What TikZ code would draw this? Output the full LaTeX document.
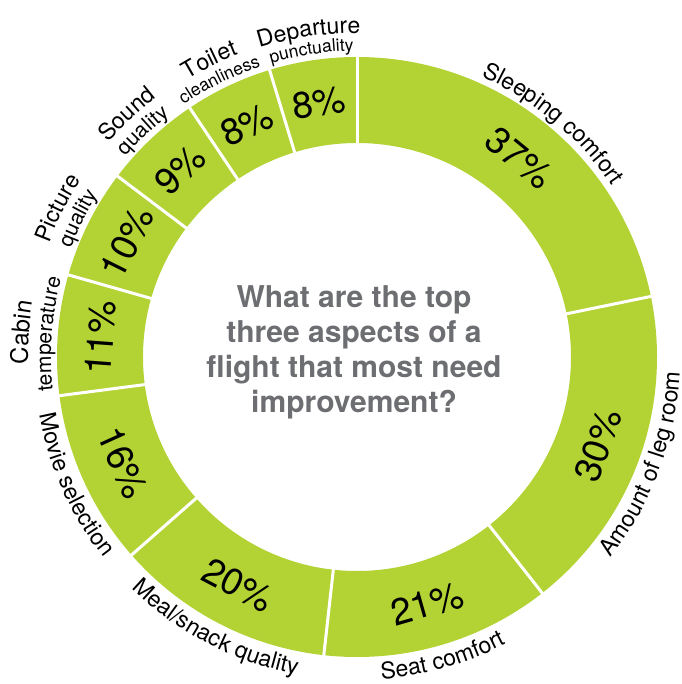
\documentclass[tikz,border=0pt]{standalone}
\usepackage{fontspec}
\setmainfont{TeX Gyre Heros}
\usetikzlibrary{decorations.text}
\definecolor{ringgreen}{RGB}{179,211,53}
\definecolor{qgrey}{RGB}{109,110,113}
\newcommand\bigfont{\fontsize{23pt}{23pt}\selectfont}
\newcommand\smallfont{\fontsize{17.5pt}{17.5pt}\selectfont}
\newcommand\midfont{\fontsize{21pt}{21pt}\selectfont}
\tikzset{
  pct/.style={font=\fontsize{37pt}{37pt}\selectfont, inner sep=0pt},
  question/.style={align=center, text=qgrey, inner sep=0pt,
    font=\bfseries\fontsize{30pt}{35pt}\selectfont},
  sepline/.style={white, line width=3pt},
}
% #1 mid angle, #2 radius, #3 text  (clockwise: letters outward)
\newcommand\toplabel[3]{%
  \path[decorate, decoration={text along path, text align=center, text={#3}}]
    ({#1+45}:#2) arc[start angle={#1+45}, end angle={#1-45}, radius=#2];}
% counter-clockwise: letters toward the centre
\newcommand\botlabel[3]{%
  \path[decorate, decoration={text along path, text align=center, text={#3}}]
    ({#1-45}:#2) arc[start angle={#1-45}, end angle={#1+45}, radius=#2];}
\begin{document}
\begin{tikzpicture}
\useasboundingbox (-357pt,-327pt) rectangle (324pt,357pt);
% ring
\fill[ringgreen, even odd rule] (0,0) circle (300pt) (0,0) circle (214pt);
% separators
\foreach \a in {90,11.647,-51.882,-96.353,-138.706,-172.588,-195.882,-217.059,-236.118,-253.059}
  \draw[sepline] (\a:211pt) -- (\a:303pt);
% percentages
\node[pct, rotate=-39.18] (p1) at (50.824:257pt) {37\%};
\node[pct, rotate=69.88] (p2) at (-20.118:257pt) {30\%};
\node[pct, rotate=15.88] (p3) at (-74.118:257pt) {21\%};
\node[pct, rotate=-27.53] (p4) at (-117.53:257pt) {20\%};
\node[pct, rotate=-65.65] (p5) at (-155.647:257pt) {16\%};
\node[pct, rotate=85.765] (p6) at (175.765:257pt) {11\%};
\node[pct, rotate=63.53] (p7) at (153.53:257pt) {10\%};
\node[pct, rotate=43.41] (p8) at (133.41:257pt) {9\%};
\node[pct, rotate=25.41] (p9) at (115.41:257pt) {8\%};
\node[pct, rotate=8.47] (p10) at (98.47:257pt) {8\%};
% question
\node[question] (q) at (-3pt,5pt) {What are the top\\three aspects of a\\flight that most need\\improvement?};
% outer labels
\toplabel{50.0}{307pt}{|\bigfont|Sleeping comfort}
\botlabel{-20.5}{323pt}{|\bigfont|Amount of leg room}
\botlabel{-74.118}{323pt}{|\bigfont|Seat comfort}
\botlabel{-117.53}{323pt}{|\bigfont|Meal/snack quality}
\botlabel{-155.647}{323pt}{|\bigfont|Movie selection}
\toplabel{175.765}{329pt}{|\fontsize{24pt}{24pt}\selectfont|Cabin}
\toplabel{175.765}{306pt}{|\midfont|temperature}
\toplabel{153.53}{328pt}{|\bigfont|Picture}
\toplabel{153.53}{306pt}{|\midfont|quality}
\toplabel{133.41}{328pt}{|\bigfont|Sound}
\toplabel{133.41}{306pt}{|\midfont|quality}
\toplabel{116.4}{325pt}{|\bigfont|Toilet}
\toplabel{116.4}{306pt}{|\smallfont|cleanliness}
\toplabel{98.47}{324pt}{|\bigfont|Departure}
\toplabel{98.47}{306pt}{|\smallfont|punctuality}
\end{tikzpicture}
\end{document}
